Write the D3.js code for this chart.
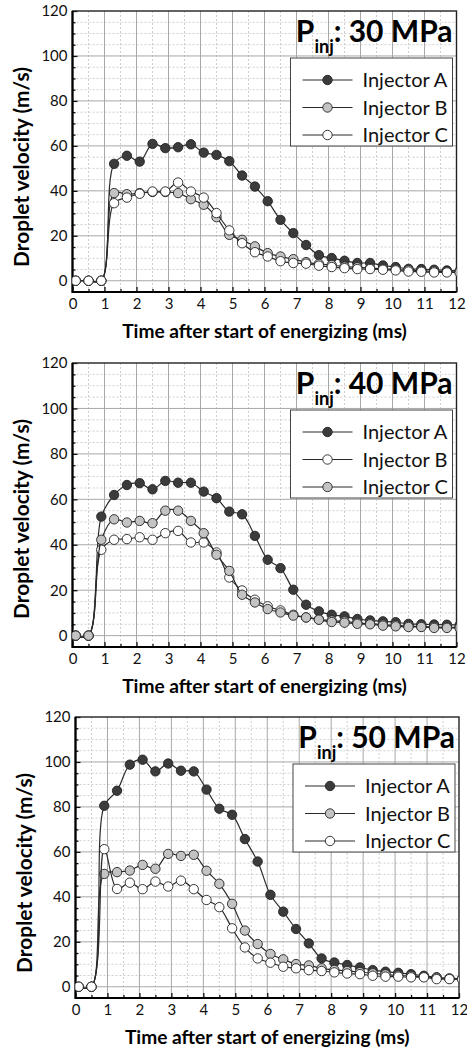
<!DOCTYPE html>
<html>
<head>
<meta charset="utf-8">
<script src="https://cdn.jsdelivr.net/npm/d3@7"></script>
<style>
  body { margin: 0; background: #fff; }
  svg { display: block; font-family: Lato, sans-serif; }
</style>
</head>
<body>
<script>
// sample times (ms), same for every series
const times = [0.1, 0.5, 0.9, 1.3, 1.7, 2.1, 2.5, 2.9, 3.3, 3.7, 4.1, 4.5, 4.9, 5.3, 5.7, 6.1,
    6.5, 6.9, 7.3, 7.7, 8.1, 8.5, 8.9, 9.3, 9.7, 10.1, 10.5, 10.9, 11.3, 11.7, 12.1];

const seriesNames = ["Injector A", "Injector B", "Injector C"];
const pressures = ["30 MPa", "40 MPa", "50 MPa"];
const xTicks = [0, 1, 2, 3, 4, 5, 6, 7, 8, 9, 10, 11, 12];
const yTicks = [0, 20, 40, 60, 80, 100, 120];

// droplet velocity (m/s)
const p30A = [0, 0, 0, 52.0, 55.6, 53.0, 60.9, 59.0, 59.4, 60.7, 57.0, 56.0, 53.2, 46.8, 41.9, 35.4,
    27.1, 21.2, 15.9, 11.4, 10.1, 8.9, 7.9, 7.9, 6.8, 6.1, 5.3, 5.2, 4.9, 4.6, 4.4];
const p30B = [0, 0, 0, 39.0, 38.5, 39.0, 39.5, 39.5, 39.0, 36.3, 33.8, 28.3, 20.4, 18.2, 15.3, 12.3,
    10.8, 9.6, 8.3, 7.5, 7.0, 6.3, 6.0, 5.6, 5.3, 5.0, 4.7, 4.4, 4.2, 4.0, 3.9];
const p30C = [0, 0, 0, 34.5, 37.0, 38.7, 39.7, 39.7, 43.7, 39.7, 37.0, 30.1, 22.4, 16.7, 12.7, 10.8,
    8.7, 7.9, 7.6, 6.7, 6.1, 5.6, 5.2, 5.2, 4.9, 4.6, 4.1, 4.0, 3.7, 3.7, 3.6];

const p40A = [0, 0, 52.4, 61.9, 66.3, 67.1, 64.4, 68.1, 67.3, 67.3, 63.4, 60.5, 54.6, 53.4, 43.9, 33.4,
    29.7, 20.2, 13.6, 10.7, 9.2, 8.5, 7.3, 6.7, 6.3, 5.9, 5.2, 5.0, 4.9, 4.8, 4.7];
const p40B = [0, 0, 37.8, 42.2, 42.5, 43.3, 42.2, 45.1, 46.1, 41.0, 41.0, 36.6, 25.6, 19.9, 15.8, 12.9,
    11.1, 9.2, 8.0, 7.2, 6.6, 6.2, 5.6, 5.3, 4.8, 4.5, 4.2, 4.0, 3.8, 3.7, 3.6];
const p40C = [0, 0, 42.2, 51.2, 49.8, 50.5, 49.5, 55.0, 55.0, 50.5, 45.1, 35.6, 28.5, 18.0, 14.6, 11.7,
    10.2, 8.8, 8.0, 7.0, 6.0, 5.7, 5.2, 5.0, 4.4, 4.1, 3.8, 3.8, 3.4, 3.4, 3.3];

const p50A = [0, 0, 80.5, 87.2, 98.8, 101.0, 95.8, 99.3, 96.1, 95.8, 87.7, 79.2, 76.5, 65.7, 55.7, 40.9,
    33.4, 25.7, 19.3, 12.6, 10.8, 9.7, 8.6, 7.4, 6.7, 6.2, 5.6, 4.9, 4.2, 3.6, 3.5];
const p50B = [0, 0, 50.2, 51.0, 51.7, 54.2, 52.5, 59.1, 58.2, 58.7, 51.6, 45.8, 36.9, 25.0, 19.0, 14.6,
    12.2, 10.1, 9.5, 8.2, 7.5, 7.0, 6.5, 6.0, 5.5, 5.0, 4.8, 4.4, 4.0, 3.7, 3.6];
const p50C = [0, 0, 61.2, 43.5, 46.3, 43.4, 46.8, 44.6, 47.2, 43.4, 38.6, 35.4, 26.0, 17.5, 12.6, 10.7,
    8.9, 8.2, 7.4, 7.0, 6.4, 5.9, 5.6, 4.9, 4.5, 4.5, 4.2, 4.2, 3.4, 3.4, 3.3];

const panelData = [[p30A, p30B, p30C], [p40A, p40B, p40C], [p50A, p50B, p50C]];

const DARK = "#3b3b3b", GRAY = "#c3c3c3", WHITE = "#ffffff";

const layout = [
    { left: 72.5, right: 456.5, top: 11, bottom: 292, fills: [DARK, GRAY, WHITE] },
    { left: 72.5, right: 456.5, top: 363, bottom: 647, fills: [DARK, WHITE, GRAY] },
    { left: 75.5, right: 459, top: 717, bottom: 998, fills: [DARK, GRAY, WHITE] }
];

const svg = d3.select("body").append("svg")
    .attr("width", 467)
    .attr("height", 1052);

// shrink/grow a text so it spans the width seen in the original
const fitWidth = (sel, base, target) => {
    sel.attr("font-size", base);
    const w = sel.node().getComputedTextLength();
    if (w > 0) sel.attr("font-size", base * target / w);
};

const drawPanel = (i) => {
    const L = layout[i];
    const x = d3.scaleLinear().domain([0, 12]).range([L.left, L.right]);
    const y = d3.scaleLinear().domain([-5, 120]).range([L.bottom, L.top]);
    const g = svg.append("g");

    const clipId = "clip" + i;
    svg.append("clipPath").attr("id", clipId)
        .append("rect")
        .attr("x", L.left).attr("y", L.top)
        .attr("width", L.right - L.left).attr("height", L.bottom - L.top);

    // grid: dotted minor, solid major
    const xMinor = x.ticks(24).filter(t => t % 1 !== 0);
    const yMinor = y.ticks(25).filter(t => t % 20 !== 0 && t > 0);
    const grid = g.append("g");
    grid.selectAll(".xm").data(xMinor).join("line")
        .attr("x1", d => x(d)).attr("x2", d => x(d))
        .attr("y1", L.top).attr("y2", L.bottom)
        .attr("stroke", "#cfcfcf").attr("stroke-dasharray", "2,2");
    grid.selectAll(".ym").data(yMinor).join("line")
        .attr("x1", L.left).attr("x2", L.right)
        .attr("y1", d => y(d)).attr("y2", d => y(d))
        .attr("stroke", "#cfcfcf").attr("stroke-dasharray", "2,2");
    grid.selectAll(".xM").data(xTicks.slice(1, -1)).join("line")
        .attr("x1", d => x(d)).attr("x2", d => x(d))
        .attr("y1", L.top).attr("y2", L.bottom)
        .attr("stroke", "#a8a8a8");
    grid.selectAll(".yM").data(yTicks.slice(0, -1)).join("line")
        .attr("x1", L.left).attr("x2", L.right)
        .attr("y1", d => y(d)).attr("y2", d => y(d))
        .attr("stroke", "#a8a8a8");

    // axes with inward ticks
    const xAxis = g.append("g")
        .attr("transform", `translate(0,${L.bottom})`)
        .call(d3.axisBottom(x).tickValues(xTicks).tickSizeInner(-5).tickSizeOuter(0).tickPadding(6));
    g.append("g")
        .attr("transform", `translate(0,${L.bottom})`)
        .call(d3.axisBottom(x).tickValues(xMinor).tickSizeInner(-3).tickSizeOuter(0).tickFormat(""))
        .select(".domain").remove();
    const yAxis = g.append("g")
        .attr("transform", `translate(${L.left},0)`)
        .call(d3.axisLeft(y).tickValues(yTicks).tickSizeInner(-5).tickSizeOuter(0).tickPadding(5));
    g.append("g")
        .attr("transform", `translate(${L.left},0)`)
        .call(d3.axisLeft(y).tickValues(yMinor).tickSizeInner(-3).tickSizeOuter(0).tickFormat(""))
        .select(".domain").remove();
    [xAxis, yAxis].forEach(a => {
        a.select(".domain").remove();
        a.selectAll("text").attr("font-size", 15).attr("fill", "#111").attr("font-family", "Lato");
    });
    g.selectAll(".tick line").attr("stroke", "#111").attr("stroke-width", 1.3);

    // frame
    g.append("rect")
        .attr("x", L.left).attr("y", L.top)
        .attr("width", L.right - L.left).attr("height", L.bottom - L.top)
        .attr("fill", "none").attr("stroke", "#222").attr("stroke-width", 1.4);
    g.append("path")
        .attr("d", `M${L.left},${L.top}V${L.bottom}H${L.right}`)
        .attr("fill", "none").attr("stroke", "#000").attr("stroke-width", 2.2);

    // series
    const line = d3.line()
        .x((d, k) => x(times[k]))
        .y(d => y(d))
        .curve(d3.curveCatmullRom);

    const plot = g.append("g").attr("clip-path", `url(#${clipId})`);
    panelData[i].forEach((vals, s) => {
        plot.append("path")
            .attr("d", line(vals))
            .attr("fill", "none")
            .attr("stroke", "#2a2a2a")
            .attr("stroke-width", 1.2);
        plot.append("g").selectAll("circle").data(vals).join("circle")
            .attr("cx", (d, k) => x(times[k]))
            .attr("cy", d => y(d))
            .attr("r", 4.7)
            .attr("fill", L.fills[s])
            .attr("stroke", "#222")
            .attr("stroke-width", 0.9);
    });

    // title  P_inj: xx MPa
    const title = g.append("text")
        .attr("x", L.right - 4)
        .attr("y", L.top + 31)
        .attr("text-anchor", "end")
        .attr("font-weight", "bold")
        .attr("font-size", 30)
        .attr("fill", "#000");
    title.append("tspan").text("P");
    title.append("tspan").attr("font-size", 18).attr("dy", 11).text("inj");
    title.append("tspan").attr("dy", -11).text(": " + pressures[i]);

    // legend
    const lw = 162, lh = 88;
    const lx = L.right - 4 - lw, ly = L.top + 47;
    const legend = g.append("g").attr("transform", `translate(${lx},${ly})`);
    legend.append("rect")
        .attr("width", lw).attr("height", lh)
        .attr("fill", "#fff").attr("stroke", "#444").attr("stroke-width", 1);
    seriesNames.forEach((name, s) => {
        const cy = 22 + s * 27.5;
        legend.append("line")
            .attr("x1", 12).attr("x2", 62).attr("y1", cy).attr("y2", cy)
            .attr("stroke", "#2a2a2a").attr("stroke-width", 1.2);
        legend.append("circle")
            .attr("cx", 37).attr("cy", cy).attr("r", 4.7)
            .attr("fill", L.fills[s]).attr("stroke", "#222").attr("stroke-width", 0.9);
        legend.append("text")
            .attr("x", 72).attr("y", cy).attr("dy", "0.36em")
            .attr("font-size", 20).attr("fill", "#111")
            .text(name);
    });

    // axis titles
    const xt = g.append("text")
        .attr("x", (L.left + L.right) / 2)
        .attr("y", L.bottom + 46)
        .attr("text-anchor", "middle")
        .attr("font-weight", "bold")
        .text("Time after start of energizing (ms)");
    fitWidth(xt, 17, 285);
    const yt = g.append("text")
        .attr("transform", `translate(${L.left - 44},${L.top + 156}) rotate(-90)`)
        .attr("text-anchor", "middle")
        .attr("font-weight", "bold")
        .text("Droplet velocity (m/s)");
    fitWidth(yt, 17.5, 200);
};

[0, 1, 2].forEach(drawPanel);
</script>
</body>
</html>
